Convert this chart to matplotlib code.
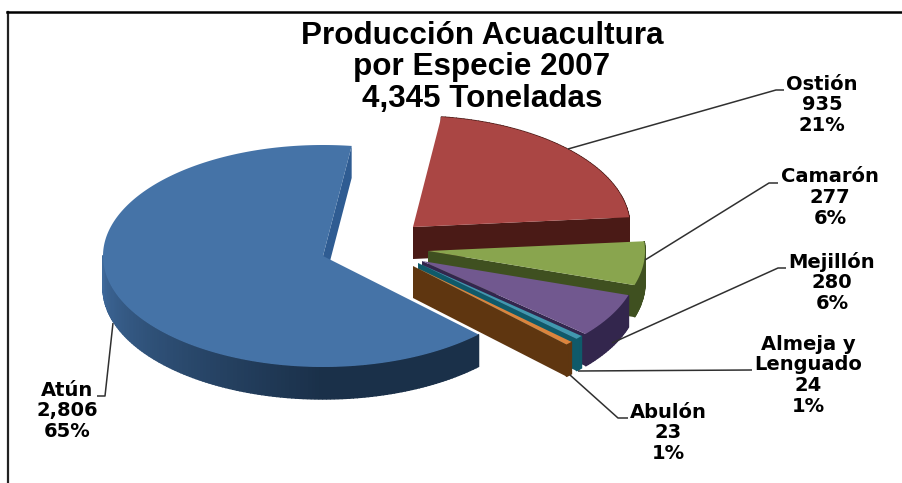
import numpy as np
import matplotlib
matplotlib.use("Agg")
import matplotlib.pyplot as plt
from matplotlib.colors import to_rgb
from matplotlib.patches import Polygon

# data
species = ["Atún", "Ostión", "Camarón", "Mejillón", "Almeja y\nLenguado", "Abulón"]
tons = [2806, 935, 277, 280, 24, 23]
tons_txt = ["2,806", "935", "277", "280", "24", "23"]
pcts = ["65%", "21%", "6%", "6%", "1%", "1%"]
title_txt = "Producción Acuacultura\npor Especie 2007\n4,345 Toneladas"

# look of the pie (pixel coords of the picture)
start_angle = 135.0      # clockwise from 12 o'clock
rx_list = [220, 217, 217, 217, 217, 217]
ry = 111
depth = 32
centers = [(323, 256), (413, 227), (428, 251), (422, 261), (418, 263), (413, 266)]
top_cols = ["#4573a7", "#aa4644", "#89a54e", "#71588f", "#4198af", "#db843d"]
side_cols = ["#2c5280", "#4a1a16", "#3f5020", "#33264d", "#0f5a6a", "#5f3610"]

label_pos = [(67, 390), (822, 84), (830, 177), (832, 262), (808, 344), (668, 412)]
leaders = [
    [(113, 323), (105, 396), (97, 396)],
    [(568, 149), (776, 90), (784, 90)],
    [(645, 260), (769, 183), (778, 183)],
    [(612, 343), (778, 268), (786, 268)],
    [(578, 371), (752, 370)],
    [(570, 375), (618, 418), (628, 418)],
]

fig = plt.figure(figsize=(9.02, 4.83), dpi=100)
ax = fig.add_axes([0, 0, 1, 1])
ax.set_xlim(0, 902)
ax.set_ylim(483, 0)
ax.axis("off")


def ring(cx, cy, rx, ang):
    a = np.radians(ang)
    return cx + rx * np.sin(a), cy - ry * np.cos(a)


def draw_slice(i, a0, a1):
    cx, cy = centers[i]
    rx = rx_list[i]
    angs = np.linspace(a0, a1, max(int(abs(a1 - a0)), 2) + 1)
    xs, ys = ring(cx, cy, rx, angs)

    # cut faces first
    x1, y1 = ring(cx, cy, rx, a1)
    if i == 0:
        ax.add_patch(Polygon([(x1, y1), (x1, y1 + depth), (cx, cy + depth), (cx, cy)],
                             fc="#2f5c92", ec="none", zorder=i + 1))
    else:
        ax.add_patch(Polygon([(cx, cy), (x1, y1), (x1, y1 + depth), (cx, cy + depth)],
                             fc=side_cols[i], ec="none", zorder=10 + i))

    # outer rim, darker towards the right on the big slice
    for k in range(len(angs) - 1):
        col = side_cols[i]
        if i == 0:
            if angs[k] >= 270:  # back of the pie, hidden
                continue
            t = np.clip((270 - angs[k]) / 90, 0, 1)
            c0, c1 = np.array(to_rgb("#3f6a9c")), np.array(to_rgb("#1a3049"))
            col = tuple(c0 + (c1 - c0) * t)
        quad = [(xs[k], ys[k]), (xs[k + 1], ys[k + 1]),
                (xs[k + 1], ys[k + 1] + depth), (xs[k], ys[k] + depth)]
        ax.add_patch(Polygon(quad, fc=col, ec=col, lw=1.0, zorder=(i + 1) if i == 0 else 10 + i))

    # top surface
    pts = [(cx, cy)] + list(zip(xs, ys))
    ax.add_patch(Polygon(pts, fc=top_cols[i], ec="none", zorder=(i + 1.5) if i == 0 else 10.5 + i))


total = sum(tons)
a = start_angle
for i, v in enumerate(tons):
    sweep = v / total * 360
    draw_slice(i, a, a + sweep)
    a += sweep

for pts in leaders:
    ax.plot([p[0] for p in pts], [p[1] for p in pts], color="#303030", lw=1.1, zorder=30,
            solid_capstyle="butt")

# labels are stretched wide in the picture, DejaVu bold is the closest shape
for name, t, p, (x, y) in zip(species, tons_txt, pcts, label_pos):
    lines = name.split("\n") + [t, p]
    for j, line in enumerate(lines):
        ax.text(x, y + j * 20.8, line, ha="center", va="center", fontsize=14,
                family="DejaVu Sans", fontweight="bold", color="black", zorder=40)

for j, line in enumerate(title_txt.split("\n")):
    ax.text(482, 36 + j * 31.5, line, ha="center", va="center", fontsize=22.6,
            family="Liberation Sans", fontweight="bold", color="black", zorder=40)

# frame
ax.plot([7.5, 7.5], [12, 483], color="#222222", lw=1.6, zorder=50)
ax.plot([7, 902], [12, 12], color="black", lw=1.8, zorder=50)

fig.savefig("out.png", dpi=100)
